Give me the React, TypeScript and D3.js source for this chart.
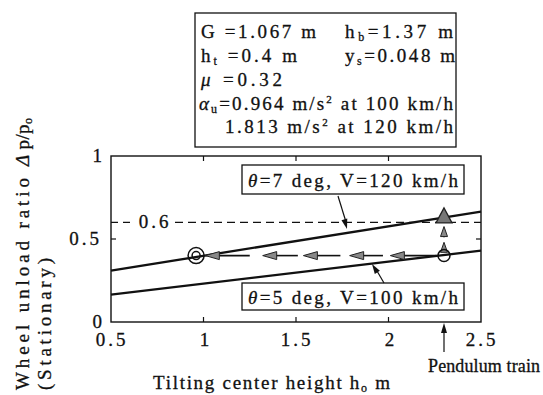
import React from 'react'
import * as d3 from 'd3'

// data
const xTicks = [0.5, 1, 1.5, 2, 2.5]
const yTicks = [0, 0.5, 1]
const heights = [0.5, 2.5]
const ratio7deg120 = [0.31, 0.665]
const ratio5deg100 = [0.165, 0.43]
const pendulumH = 2.3
const reducedH = 0.96
const ratioAt100 = 0.4
const ratioAt120 = 0.633
const limitRatio = 0.6
// dashed leftward arrow pieces (tip, tail) in h units
const leftDashes = [[1.01, 1.25], [1.32, 1.51], [1.54, 1.74], [1.79, 1.97], [2.01, 2.26]]
// dashed upward arrow pieces (tail, tip) in ratio units
const upDashes = [[0.44, 0.48], [0.51, 0.575]]

const W = 543
const H = 395
const font = '"Liberation Serif", "Times New Roman", serif'

export default function App() {
    var x = d3.scaleLinear().domain([0.5, 2.5]).range([111, 481])
    var y = d3.scaleLinear().domain([0, 1]).range([322, 156])

    var line = d3.line<number>()
        .x((d, i) => x(heights[i]))
        .y(d => y(d))

    // small filled arrowhead, tip at (tx,ty), pointing to angle a
    var head = (tx: number, ty: number, a: number, len = 12, half = 4) => {
        var c = Math.cos(a), s = Math.sin(a)
        var bx = tx - c * len, by = ty - s * len
        return `M${tx},${ty}L${bx - s * half},${by + c * half}L${bx + s * half},${by - c * half}Z`
    }

    var sub = (t: string) => <tspan fontSize={12} dy={3}>{t}</tspan>

    var px = x(pendulumH)

    return (
        <svg width={W} height={H} style={{ position: 'absolute', left: 0, top: 0, background: '#fff' }}
            fontFamily={font} fill="#111">

            <g stroke="#111" strokeWidth={0.3}>
                {/* parameter box */}
                <g fontSize={19}>
                    <text x={201} y={38} textLength={115} lengthAdjust="spacing">G =1.067 m</text>
                    <text x={345} y={38} textLength={108} lengthAdjust="spacing">h{sub('b')}<tspan dy={-3}>=1.37 m</tspan></text>
                    <text x={201} y={62} textLength={96} lengthAdjust="spacing">h{sub('t')}<tspan dy={-3}> =0.4 m</tspan></text>
                    <text x={345} y={62} textLength={110} lengthAdjust="spacing">y{sub('s')}<tspan dy={-3}>=0.048 m</tspan></text>
                    <text x={201} y={86} textLength={81} lengthAdjust="spacing"><tspan fontStyle="italic">μ</tspan> =0.32</text>
                    <text x={199} y={110} textLength={254} lengthAdjust="spacing">
                        <tspan fontStyle="italic">α</tspan>{sub('u')}<tspan dy={-3}>=0.964 m/s</tspan><tspan fontSize={11} dy={-7}>2</tspan><tspan dy={7}> at 100 km/h</tspan>
                    </text>
                    <text x={225} y={133} textLength={228} lengthAdjust="spacing">
                        1.813 m/s<tspan fontSize={11} dy={-7}>2</tspan><tspan dy={7}> at 120 km/h</tspan>
                    </text>
                </g>

                {/* tick labels */}
                <g fontSize={19}>
                    {xTicks.map(t => (
                        <text key={t} x={x(t) + 1} y={346} textAnchor="middle" letterSpacing={t % 1 ? 3 : 0}>{t}</text>
                    ))}
                    {yTicks.map(t => (
                        <text key={t} x={102} y={y(t) + 6} textAnchor="end" letterSpacing={t % 1 ? 3 : 0}>{t}</text>
                    ))}
                </g>
                <text x={155} y={y(limitRatio) + 6} fontSize={19} letterSpacing={3} textAnchor="middle">0.6</text>
            </g>

            <rect x={195} y={13} width={261} height={134} fill="none" stroke="#111" strokeWidth={1.3} />

            {/* frame */}
            <rect x={x(0.5)} y={y(1)} width={x(2.5) - x(0.5)} height={y(0) - y(1)} fill="none" stroke="#111" strokeWidth={1.4} />

            {/* ticks */}
            {xTicks.slice(1, -1).map(t => (
                <g key={t} stroke="#111" strokeWidth={1.2}>
                    <line x1={x(t)} x2={x(t)} y1={y(0)} y2={y(0) - 5} />
                    <line x1={x(t)} x2={x(t)} y1={y(1)} y2={y(1) + 5} />
                </g>
            ))}
            <line x1={x(0.5)} x2={x(0.5) + 5} y1={y(0.5)} y2={y(0.5)} stroke="#111" strokeWidth={1.2} />
            <line x1={x(2.5)} x2={x(2.5) - 5} y1={y(0.5)} y2={y(0.5)} stroke="#111" strokeWidth={1.2} />

            {/* 0.6 limit */}
            <line x1={x(0.5)} x2={x(0.5) + 24} y1={y(limitRatio)} y2={y(limitRatio)}
                stroke="#111" strokeWidth={1.2} strokeDasharray="7,5" />
            <line x1={x(0.5) + 64} x2={x(2.5)} y1={y(limitRatio)} y2={y(limitRatio)}
                stroke="#111" strokeWidth={1.2} strokeDasharray="8,5" />

            {/* curves */}
            <path d={line(ratio7deg120) || ''} fill="none" stroke="#111" strokeWidth={2.3} />
            <path d={line(ratio5deg100) || ''} fill="none" stroke="#111" strokeWidth={2.3} />

            {/* leftward dashed arrow */}
            {leftDashes.map((d, i) => (
                <g key={i}>
                    <line x1={x(d[0]) + 8} x2={x(d[1])} y1={y(ratioAt100)} y2={y(ratioAt100)} stroke="#111" strokeWidth={1.6} />
                    <path d={head(x(d[0]), y(ratioAt100), Math.PI, 14, 4)} fill="#888" stroke="#222" strokeWidth={1} />
                </g>
            ))}

            {/* upward dashed arrow */}
            {upDashes.map((d, i) => (
                <g key={i}>
                    <line x1={px} x2={px} y1={y(d[0])} y2={y(d[1]) + 6} stroke="#111" strokeWidth={1.6} />
                    <path d={head(px, y(d[1]), -Math.PI / 2, 10, 3.5)} fill="#888" stroke="#222" strokeWidth={1} />
                </g>
            ))}

            {/* markers */}
            <circle cx={x(reducedH)} cy={y(ratioAt100)} r={8} fill="none" stroke="#111" strokeWidth={1.5} />
            <circle cx={x(reducedH)} cy={y(ratioAt100)} r={4} fill="none" stroke="#111" strokeWidth={1.5} />
            <circle cx={px} cy={y(ratioAt100)} r={6} fill="none" stroke="#111" strokeWidth={1.5} />
            <path d={`M${px},${y(ratioAt120) - 9}L${px - 8},${y(ratioAt120) + 6}L${px + 8},${y(ratioAt120) + 6}Z`}
                fill="#777" stroke="#222" strokeWidth={1.3} />

            {/* case labels */}
            <rect x={242} y={165} width={222} height={29} fill="#fff" stroke="#111" strokeWidth={1.3} />
            <rect x={242} y={283} width={222} height={27} fill="#fff" stroke="#111" strokeWidth={1.3} />
            <g stroke="#111" strokeWidth={0.3} fontSize={19}>
                <text x={248} y={187} textLength={210} lengthAdjust="spacing">
                    <tspan fontStyle="italic">θ</tspan>=7 deg,  V=120 km/h
                </text>
                <text x={248} y={304} textLength={210} lengthAdjust="spacing">
                    <tspan fontStyle="italic">θ</tspan>=5 deg,  V=100 km/h
                </text>
            </g>
            <line x1={338} x2={346} y1={196} y2={222} stroke="#111" strokeWidth={1.2} />
            <path d={head(347, 229, Math.atan2(33, 9), 10, 3)} fill="#111" />
            <line x1={384} x2={377} y1={283} y2={271} stroke="#111" strokeWidth={1.2} />
            <path d={head(372, 264, Math.atan2(-19, -12), 10, 3)} fill="#111" />

            {/* pendulum train pointer */}
            <line x1={px} x2={px} y1={352} y2={330} stroke="#111" strokeWidth={1.2} />
            <path d={head(px, 323, -Math.PI / 2, 10, 3)} fill="#111" />

            {/* axis titles */}
            <g stroke="#111" strokeWidth={0.3} fontSize={19}>
                <text x={428} y={372} fontSize={18} textLength={112} lengthAdjust="spacing">Pendulum train</text>
                <text x={153} y={389} textLength={237} lengthAdjust="spacing">
                    Tilting center height h<tspan fontSize={12} dy={3}>o</tspan><tspan dy={-3}> m</tspan>
                </text>
                <text transform="translate(29,390) rotate(-90)" textLength={212} lengthAdjust="spacing">Wheel unload ratio</text>
                <text transform="translate(29,166) rotate(-90)" textLength={48} lengthAdjust="spacing">
                    <tspan fontStyle="italic">Δ</tspan> p/p<tspan fontSize={12} dy={3}>o</tspan>
                </text>
                <text transform="translate(51,390) rotate(-90)" textLength={132} lengthAdjust="spacing">(Stationary)</text>
            </g>
        </svg>
    )
}
